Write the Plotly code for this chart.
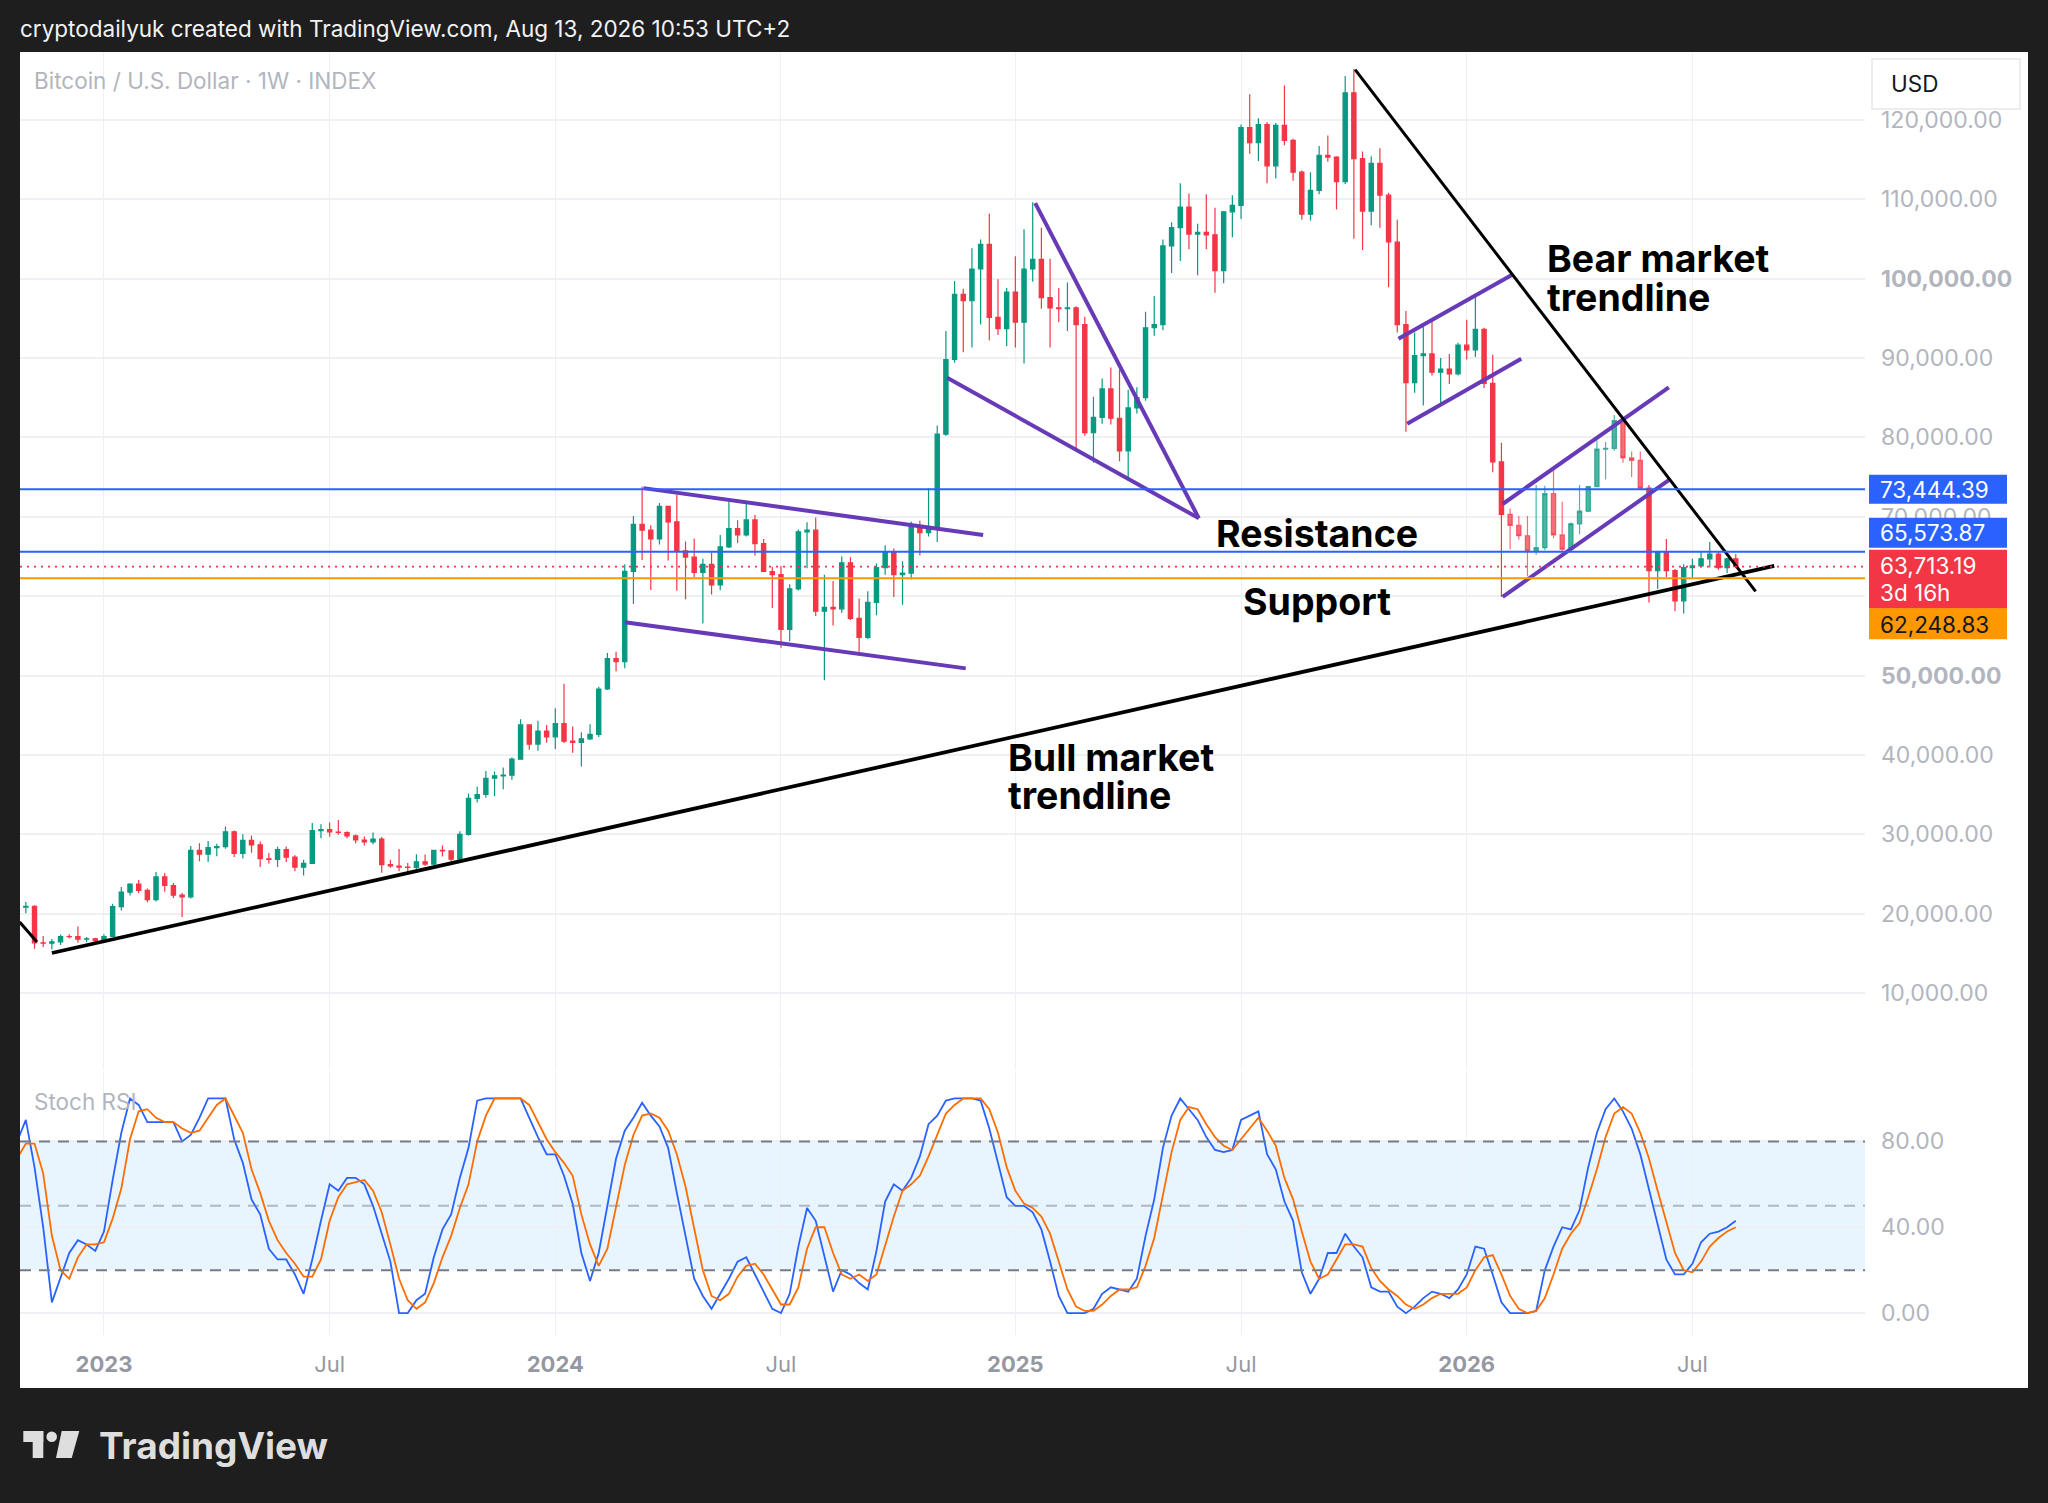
import pandas as pd
import plotly.graph_objects as go

W, H = 2048, 1503

# weekly BTC/USD candles (thousands of USD), first week starts 2022-10-24
week_start = "2022-10-24"
opens = [
    19.57, 20.81, 20.92, 16.32, 16.28, 16.46, 17.11, 17.10, 16.78, 16.84,
    16.62, 17.13, 20.88, 22.71, 23.74, 22.93, 21.78, 24.63, 23.55, 22.35,
    22.13, 27.99, 27.49, 28.33, 28.45, 30.31, 27.59, 29.23, 28.67, 26.92,
    26.85, 28.07, 27.12, 25.85, 26.33, 30.47, 30.58, 30.29, 30.23, 29.79,
    29.28, 29.05, 29.40, 26.19, 26.01, 25.87, 25.83, 26.53, 26.25, 27.97,
    27.92, 26.86, 29.99, 34.53, 35.01, 37.06, 37.36, 37.45, 39.46, 43.78,
    41.36, 43.01, 42.28, 43.95, 41.73, 41.58, 42.03, 42.58, 48.30, 52.14,
    51.73, 63.11, 69.05, 68.30, 67.20, 71.30, 69.35, 65.70, 64.90, 63.00,
    64.00, 61.40, 66.20, 68.50, 67.70, 69.60, 66.60, 63.10, 62.70, 55.80,
    60.90, 68.10, 68.30, 58.10, 58.60, 58.40, 64.20, 57.20, 54.80, 59.20,
    63.60, 65.50, 62.70, 62.90, 68.80, 68.00, 68.60, 80.40, 89.80, 98.00,
    97.20, 101.20, 104.30, 95.10, 93.70, 98.30, 94.50, 101.20, 102.40, 97.60,
    96.30, 96.20, 96.30, 94.20, 80.60, 82.50, 86.10, 82.40, 78.30, 83.70,
    85.00, 93.80, 94.20, 104.10, 106.40, 109.00, 105.60, 105.80, 105.50, 101.00,
    108.40, 109.20, 119.00, 117.10, 119.40, 114.20, 119.30, 117.40, 113.40, 108.10,
    111.10, 115.50, 115.30, 112.20, 123.40, 115.10, 108.50, 114.50, 110.50, 104.60,
    94.20, 86.90, 90.30, 90.50, 88.20, 88.60, 88.00, 91.60, 91.00, 93.60,
    86.80, 76.90, 70.30, 68.90, 67.60, 65.70, 66.10, 72.90, 67.70, 65.90,
    69.10, 70.70, 73.80, 78.50, 78.60, 82.10, 77.40, 77.10, 73.60, 63.20,
    65.60, 63.20, 59.40, 63.60, 63.80, 64.70, 65.30, 63.60, 64.70,
]
highs = [
    21.08, 21.47, 21.05, 17.19, 16.80, 17.39, 17.42, 18.39, 17.06, 16.97,
    17.41, 21.26, 23.37, 23.82, 24.24, 23.17, 25.25, 25.13, 23.88, 22.60,
    28.52, 28.86, 29.16, 28.80, 30.98, 30.49, 30.02, 29.84, 29.09, 27.66,
    28.44, 28.45, 27.35, 26.79, 31.43, 31.28, 31.50, 31.80, 30.39, 29.99,
    29.73, 30.24, 29.66, 26.81, 28.14, 26.40, 27.48, 27.45, 28.06, 28.58,
    27.99, 30.37, 35.15, 35.98, 37.97, 37.92, 38.41, 39.68, 44.49, 43.80,
    44.29, 43.78, 45.88, 48.97, 43.58, 42.84, 43.86, 48.59, 52.82, 52.98,
    64.00, 70.10, 73.78, 68.92, 71.73, 71.34, 72.73, 66.87, 67.23, 64.71,
    65.49, 67.70, 71.96, 69.55, 71.70, 70.20, 67.20, 63.70, 63.80, 61.50,
    68.40, 69.30, 69.90, 62.70, 61.90, 65.00, 64.90, 59.70, 60.60, 64.10,
    66.40, 66.00, 64.40, 69.40, 69.50, 73.60, 81.50, 93.40, 99.70, 98.70,
    103.80, 104.90, 108.20, 99.90, 98.80, 102.80, 106.20, 109.60, 106.40, 102.50,
    98.80, 99.50, 96.50, 95.20, 85.10, 87.40, 88.80, 88.50, 86.00, 86.30,
    95.80, 97.80, 104.90, 107.10, 112.00, 110.70, 106.90, 110.60, 108.90, 108.50,
    110.50, 119.40, 123.20, 120.20, 119.70, 119.60, 124.30, 117.60, 113.60, 113.40,
    116.70, 118.00, 115.40, 125.50, 126.40, 116.00, 115.40, 116.40, 110.80, 107.40,
    95.90, 93.20, 94.10, 94.70, 90.00, 90.50, 91.90, 94.80, 98.10, 93.80,
    90.40, 79.30, 71.00, 70.10, 70.10, 74.00, 73.90, 76.00, 71.90, 69.30,
    74.00, 73.90, 79.60, 79.40, 82.80, 82.20, 78.20, 78.20, 74.00, 65.70,
    67.20, 63.40, 64.00, 64.70, 65.60, 66.80, 65.60, 64.80, 65.30,
]
lows = [
    19.16, 20.05, 15.59, 15.82, 15.48, 16.05, 16.87, 16.35, 16.40, 16.33,
    16.50, 17.09, 20.41, 22.29, 22.58, 21.45, 21.53, 22.75, 21.97, 19.57,
    21.92, 26.61, 26.52, 27.22, 28.19, 27.14, 26.94, 27.68, 25.87, 26.33,
    25.88, 26.51, 25.35, 24.80, 26.25, 29.50, 29.70, 29.95, 29.50, 28.86,
    28.58, 28.75, 25.17, 25.80, 25.36, 24.90, 25.14, 26.00, 26.00, 27.19,
    26.56, 26.83, 29.82, 33.99, 34.60, 34.83, 35.68, 36.87, 39.45, 40.64,
    40.52, 41.52, 40.75, 41.50, 40.28, 38.55, 41.88, 42.26, 48.17, 50.55,
    50.90, 59.00, 64.55, 60.76, 66.51, 64.49, 60.66, 59.60, 62.39, 56.55,
    60.19, 60.75, 66.07, 66.70, 67.50, 65.10, 64.10, 58.50, 53.50, 54.30,
    60.70, 63.50, 57.50, 49.40, 56.30, 57.90, 57.00, 53.00, 54.60, 57.60,
    62.70, 59.90, 58.90, 62.10, 65.10, 67.50, 66.80, 80.20, 89.40, 90.70,
    91.30, 94.20, 92.20, 92.90, 91.50, 91.30, 89.30, 99.60, 96.20, 91.30,
    94.50, 93.40, 78.50, 80.20, 76.80, 81.70, 81.60, 77.00, 74.50, 83.00,
    84.60, 92.80, 93.50, 100.70, 102.20, 103.70, 100.40, 103.70, 98.20, 99.40,
    105.20, 107.50, 115.70, 114.80, 112.00, 112.60, 116.80, 112.30, 107.40, 107.30,
    110.60, 114.70, 108.70, 111.90, 105.00, 103.60, 106.70, 106.40, 98.90, 93.20,
    80.70, 85.60, 84.00, 87.80, 84.20, 86.70, 87.80, 89.80, 90.10, 86.20,
    75.60, 59.90, 65.90, 67.10, 62.50, 65.20, 65.80, 67.30, 65.60, 65.70,
    67.80, 70.60, 73.70, 74.70, 78.30, 76.80, 75.00, 73.50, 59.20, 60.90,
    62.40, 58.10, 57.80, 62.20, 63.60, 63.60, 63.30, 62.90, 63.50,
]
closes = [
    20.81, 20.92, 16.32, 16.28, 16.46, 17.11, 17.10, 16.78, 16.84, 16.62,
    17.13, 20.88, 22.71, 23.74, 22.93, 21.78, 24.63, 23.55, 22.35, 22.13,
    27.99, 27.49, 28.33, 28.45, 30.31, 27.59, 29.23, 28.67, 26.92, 26.85,
    28.07, 27.12, 25.85, 26.33, 30.47, 30.58, 30.29, 30.23, 29.79, 29.28,
    29.05, 29.40, 26.19, 26.01, 25.87, 25.83, 26.53, 26.25, 27.97, 27.92,
    26.86, 29.99, 34.53, 35.01, 37.06, 37.36, 37.45, 39.46, 43.78, 41.36,
    43.01, 42.28, 43.95, 41.73, 41.58, 42.03, 42.58, 48.30, 52.14, 51.73,
    63.11, 69.05, 68.30, 67.20, 71.30, 69.35, 65.70, 64.90, 63.00, 64.00,
    61.40, 66.20, 68.50, 67.70, 69.60, 66.60, 63.10, 62.70, 55.80, 60.90,
    68.10, 68.30, 58.10, 58.60, 58.40, 64.20, 57.20, 54.80, 59.20, 63.60,
    65.50, 62.70, 62.90, 68.80, 68.00, 68.60, 80.40, 89.80, 98.00, 97.20,
    101.20, 104.30, 95.10, 93.70, 98.30, 94.50, 101.20, 102.40, 97.60, 96.30,
    96.20, 96.30, 94.20, 80.60, 82.50, 86.10, 82.40, 78.30, 83.70, 85.00,
    93.80, 94.20, 104.10, 106.40, 109.00, 105.60, 105.80, 105.50, 101.00, 108.40,
    109.20, 119.00, 117.10, 119.40, 114.20, 119.30, 117.40, 113.40, 108.10, 111.10,
    115.50, 115.30, 112.20, 123.40, 115.10, 108.50, 114.50, 110.50, 104.60, 94.20,
    86.90, 90.30, 90.50, 88.20, 88.60, 88.00, 91.60, 91.00, 93.60, 86.80,
    76.90, 70.30, 68.90, 67.60, 65.70, 66.10, 72.90, 67.70, 65.90, 69.10,
    70.70, 73.80, 78.50, 78.60, 82.10, 77.40, 77.10, 73.60, 63.20, 65.60,
    63.20, 59.40, 63.60, 63.80, 64.70, 65.30, 63.60, 64.70, 63.71319,
]

# Stoch RSI (K blue, D orange), one value per weekly candle
stoch_k = [
    80, 90, 68, 40, 5, 17, 28, 34, 32, 29,
    38, 62, 84, 100, 97, 89, 89, 89, 89, 80,
    83, 91, 100, 100, 100, 81, 70, 53, 46, 30,
    25, 25, 18, 9, 25, 43, 60, 57, 63, 63,
    60, 50, 37, 24, 0, 0, 6, 9, 26, 39,
    46, 63, 77, 99, 100, 100, 100, 100, 100, 91,
    82, 74, 74, 64, 51, 28, 15, 28, 51, 72,
    85, 91, 98, 92, 87, 77, 56, 36, 16, 8,
    2, 9, 16, 24, 26, 18, 10, 2, 0, 9,
    31, 49, 43, 26, 10, 20, 18, 14, 11, 29,
    52, 60, 57, 63, 73, 88, 92, 99, 100, 100,
    100, 99, 86, 70, 54, 50, 50, 47, 39, 24,
    8, 0, 0, 0, 2, 9, 12, 11, 10, 16,
    36, 53, 77, 92, 100, 95, 90, 82, 76, 75,
    76, 90, 92, 94, 74, 67, 52, 43, 19, 9,
    16, 28, 28, 37, 31, 26, 12, 10, 10, 3,
    0, 3, 7, 10, 9, 7, 11, 18, 31, 30,
    18, 5, 0, 0, 0, 1, 20, 31, 40, 39,
    48, 68, 84, 95, 100, 94, 86, 74, 58, 42,
    25, 18, 18, 23, 33, 37, 38, 40, 43,
]
stoch_d = [
    72, 79, 79, 65, 36, 20, 16, 26, 32, 32,
    33, 44, 58, 81, 94, 95, 91, 89, 89, 86,
    84, 85, 91, 97, 100, 92, 84, 67, 56, 43,
    34, 28, 23, 17, 17, 25, 43, 54, 60, 61,
    62, 57, 47, 32, 16, 6, 2, 5, 14, 26,
    36, 49, 60, 80, 92, 100, 100, 100, 100, 97,
    89, 81, 75, 70, 64, 46, 32, 22, 30, 50,
    69, 83, 92, 93, 91, 85, 74, 59, 40, 20,
    8, 6, 9, 17, 22, 23, 18, 11, 4, 4,
    12, 30, 40, 40, 28, 18, 16, 18, 15, 18,
    32, 45, 57, 60, 64, 73, 83, 93, 97, 100,
    100, 100, 95, 84, 68, 57, 51, 49, 45, 37,
    24, 11, 3, 1, 1, 4, 8, 11, 11, 12,
    22, 35, 55, 75, 90, 96, 95, 88, 82, 78,
    76, 81, 86, 91, 85, 78, 63, 53, 38, 24,
    16, 18, 25, 32, 32, 31, 21, 15, 11, 8,
    4, 2, 4, 7, 9, 9, 9, 12, 20, 26,
    27, 18, 8, 2, 0, 1, 7, 18, 30, 37,
    42, 54, 67, 82, 93, 96, 93, 84, 72, 57,
    43, 28, 20, 19, 24, 31, 35, 38, 40,
]

# horizontal levels (USD)
resistance_hi = 73444.39
resistance_lo = 65573.87
last_price = 63713.19
support_level = 62248.83

# drawn trendlines: dates and prices (USD)
bull_dates = ["2022-11-21", "2026-09-10"]
bull_prices = [15050, 63800]
bear_dates = ["2025-10-07", "2026-08-26"]
bear_prices = [126300, 60600]
old_dates = ["2022-10-26", "2022-11-09"]
old_prices = [18950, 16440]

purple_dates = [
    ["2024-03-12", "2024-12-11"], ["2024-02-26", "2024-11-27"],
    ["2024-11-12", "2025-06-03"], ["2025-01-22", "2025-06-03"],
    ["2025-11-11", "2026-02-10"], ["2025-11-18", "2026-02-18"],
    ["2026-02-03", "2026-06-17"], ["2026-02-03", "2026-06-17"],
]
purple_prices = [
    [73600, 67700], [56700, 50900],
    [87500, 69800], [109500, 69800],
    [92400, 100400], [81700, 89900],
    [71600, 86300], [59900, 74600],
]

price_ticks = [10000, 20000, 30000, 40000, 50000, 60000, 70000,
               80000, 90000, 100000, 110000, 120000]
time_ticks = ["2023-01-02", "2023-07-03", "2024-01-01", "2024-07-01",
              "2025-01-06", "2025-07-07", "2026-01-05", "2026-07-06"]
time_labels = ["<b>2023</b>", "Jul", "<b>2024</b>", "Jul",
               "<b>2025</b>", "Jul", "<b>2026</b>", "Jul"]

UP, DOWN = "#089981", "#f23645"
UP_F, DOWN_F = "rgba(8,153,129,0.72)", "rgba(242,54,69,0.72)"
GRID = "#eef0f3"
LABEL = "#b2b5be"
FONT = "Inter, Roboto, sans-serif"


def px(x):
    return x / W


def py(y):
    return 1 - y / H


weeks = pd.date_range(week_start, periods=len(closes), freq="7D")
faded = set(range(172, 188))

fig = go.Figure()

for keep, up, down in [(lambda i: i not in faded, UP, DOWN), (lambda i: i in faded, UP_F, DOWN_F)]:
    idx = [i for i in range(len(closes)) if keep(i)]
    fig.add_trace(go.Candlestick(
        x=[weeks[i] for i in idx],
        open=[opens[i] * 1000 for i in idx],
        high=[highs[i] * 1000 for i in idx],
        low=[lows[i] * 1000 for i in idx],
        close=[closes[i] * 1000 for i in idx],
        increasing=dict(line=dict(color=up, width=1.2), fillcolor=up),
        decreasing=dict(line=dict(color=down, width=1.2), fillcolor=down),
        whiskerwidth=0, showlegend=False, hoverinfo="skip",
        xaxis="x", yaxis="y",
    ))

for d, p in zip(purple_dates, purple_prices):
    fig.add_trace(go.Scatter(x=d, y=p, mode="lines", line=dict(color="#673ab7", width=4),
                             showlegend=False, hoverinfo="skip", xaxis="x", yaxis="y"))

for d, p, w in [(bull_dates, bull_prices, 3.8), (bear_dates, bear_prices, 3), (old_dates, old_prices, 3)]:
    fig.add_trace(go.Scatter(x=d, y=p, mode="lines", line=dict(color="#000000", width=w),
                             showlegend=False, hoverinfo="skip", xaxis="x", yaxis="y"))

fig.add_trace(go.Scatter(x=weeks, y=stoch_k, mode="lines", line=dict(color="#2962ff", width=1.8),
                         showlegend=False, hoverinfo="skip", xaxis="x2", yaxis="y2"))
fig.add_trace(go.Scatter(x=weeks, y=stoch_d, mode="lines", line=dict(color="#ff6d00", width=1.8),
                         showlegend=False, hoverinfo="skip", xaxis="x2", yaxis="y2"))

x_range = ["2022-10-26 07:00", "2026-11-22 05:00"]
dom_x = [px(20), px(1865)]

price_text = []
for v in price_ticks:
    t = f"{v:,.2f}"
    price_text.append(f"<b>{t}</b>" if v in (50000, 100000) else t)

fig.update_layout(
    width=W, height=H,
    margin=dict(l=0, r=0, t=0, b=0),
    paper_bgcolor="#1e1e1e",
    plot_bgcolor="#ffffff",
    hovermode=False,
    showlegend=False,
    font=dict(family=FONT, color=LABEL, size=21),
    xaxis=dict(domain=dom_x, anchor="y", range=x_range, rangeslider=dict(visible=False),
               tickvals=time_ticks, showticklabels=False, showgrid=True, gridcolor=GRID,
               gridwidth=1, zeroline=False, showline=False, ticks=""),
    yaxis=dict(domain=[py(1069), py(52)], anchor="x", side="right", range=[440, 128530],
               tickvals=price_ticks, ticktext=price_text, showgrid=True, gridcolor=GRID,
               gridwidth=1.5, zeroline=False, showline=False, ticks="", ticklabelstandoff=15,
               tickfont=dict(size=23, color=LABEL)),
    xaxis2=dict(domain=dom_x, anchor="y2", range=x_range, tickvals=time_ticks, ticktext=time_labels,
                showgrid=True, gridcolor=GRID, gridwidth=1, zeroline=False, showline=False, ticks="",
                ticklabelstandoff=14, tickfont=dict(size=22, color="#9598a1")),
    yaxis2=dict(domain=[py(1335), py(1071)], anchor="x2", side="right", range=[-10.2, 112.8],
                tickvals=[0, 40, 80], ticktext=["0.00", "40.00", "80.00"], showgrid=True,
                gridcolor=GRID, gridwidth=1.5, zeroline=False, showline=False, ticks="",
                ticklabelstandoff=15, tickfont=dict(size=23, color=LABEL)),
)

shapes = [
    # white chart card
    dict(type="rect", xref="paper", yref="paper", x0=px(20), x1=px(2028), y0=py(1388), y1=py(52),
         fillcolor="#ffffff", line=dict(width=0), layer="below"),
    # stoch RSI band
    dict(type="rect", xref="x2 domain", yref="y2", x0=0, x1=1, y0=20, y1=80,
         fillcolor="rgba(33,150,243,0.1)", line=dict(width=0), layer="below"),
]
for lvl, col in [(80, "#787b86"), (50, "rgba(120,123,134,0.5)"), (20, "#787b86")]:
    shapes.append(dict(type="line", xref="x2 domain", yref="y2", x0=0, x1=1, y0=lvl, y1=lvl,
                       line=dict(color=col, width=2, dash="11px,8px"), layer="above"))
# price levels
for lvl, col, dash, wd in [(resistance_hi, "#2962ff", "solid", 2), (resistance_lo, "#2962ff", "solid", 2),
                           (support_level, "#ff9800", "solid", 2), (last_price, "#f23645", "2px,5px", 1.6)]:
    shapes.append(dict(type="line", xref="x domain", yref="y", x0=0, x1=1, y0=lvl, y1=lvl,
                       line=dict(color=col, width=wd, dash=dash), layer="above"))

# price-scale labels
box_x0, box_x1 = px(1869), px(2007)
for lvl, col, y0, y1 in [(resistance_hi, "#2962ff", -14.5, 14.5), (resistance_lo, "#2962ff", 4, 34),
                         (last_price, "#f23645", -42, 17), (support_level, "#ff9800", -61, -30)]:
    shapes.append(dict(type="rect", xref="paper", yref="y", x0=box_x0, x1=box_x1,
                       ysizemode="pixel", yanchor=lvl, y0=y0, y1=y1,
                       fillcolor=col, line=dict(width=0), layer="above"))
# USD box
shapes.append(dict(type="rect", xref="paper", yref="paper", x0=px(1872), x1=px(2020), y0=py(109), y1=py(59),
                   fillcolor="#ffffff", line=dict(color="#e6e8ec", width=1.5), layer="above"))
# TradingView logo
shapes += [
    dict(type="rect", xref="paper", yref="paper", x0=px(23.3), x1=px(43.3), y0=py(1442), y1=py(1431),
         fillcolor="#dedede", line=dict(width=0)),
    dict(type="rect", xref="paper", yref="paper", x0=px(32.7), x1=px(43.3), y0=py(1458), y1=py(1431),
         fillcolor="#dedede", line=dict(width=0)),
    dict(type="circle", xref="paper", yref="paper", x0=px(46.4), x1=px(57), y0=py(1442), y1=py(1431.4),
         fillcolor="#dedede", line=dict(width=0)),
    dict(type="path", xref="paper", yref="paper",
         path=f"M {px(61.7)},{py(1431)} L {px(79.3)},{py(1431)} L {px(71.7)},{py(1458)} L {px(56)},{py(1458)} Z",
         fillcolor="#dedede", line=dict(width=0)),
]
fig.update_layout(shapes=shapes)

ann = []


def text(x, y, s, size, color, bold=False, xref="paper", yref="paper", yshift=0):
    ann.append(dict(x=x, y=y, xref=xref, yref=yref, text=f"<b>{s}</b>" if bold else s,
                    showarrow=False, xanchor="left", yanchor="middle", yshift=yshift,
                    font=dict(family=FONT, size=size, color=color)))


text(px(18), py(29), "cryptodailyuk created with TradingView.com, Aug 13, 2026 10:53 UTC+2", 22.5, "#f2f2f2")
text(px(32), py(81), "Bitcoin / U.S. Dollar · 1W · INDEX", 22.5, LABEL)
text(px(32), py(1101), "Stoch RSI", 22.5, LABEL)
text(px(1889), py(83), "USD", 22.5, "#131722")

text(px(1545), py(258), "Bear market", 37.5, "#000000", bold=True)
text(px(1545), py(297), "trendline", 37.5, "#000000", bold=True)
text(px(1214), py(533), "Resistance", 37.5, "#000000", bold=True)
text(px(1241), py(601), "Support", 37.5, "#000000", bold=True)
text(px(1006), py(757), "Bull market", 37.5, "#000000", bold=True)
text(px(1006), py(795), "trendline", 37.5, "#000000", bold=True)

lx = px(1878)
text(lx, resistance_hi, f"{resistance_hi:,.2f}", 22.5, "#ffffff", yref="y")
text(lx, resistance_lo, f"{resistance_lo:,.2f}", 22.5, "#ffffff", yref="y", yshift=19)
text(lx, last_price, f"{last_price:,.2f}", 22.5, "#ffffff", yref="y", yshift=1)
text(lx, last_price, "3d 16h", 22.5, "#ffffff", yref="y", yshift=-26)
text(lx, support_level, f"{support_level:,.2f}", 22.5, "#131722", yref="y", yshift=-46)

text(px(97), py(1445), "TradingView", 37, "#dedede", bold=True)

fig.update_layout(annotations=ann)

fig.write_html("out.html", config={"displayModeBar": False},
               post_script="document.body.style.margin='0';"
                           "document.body.style.background='#1e1e1e';")
